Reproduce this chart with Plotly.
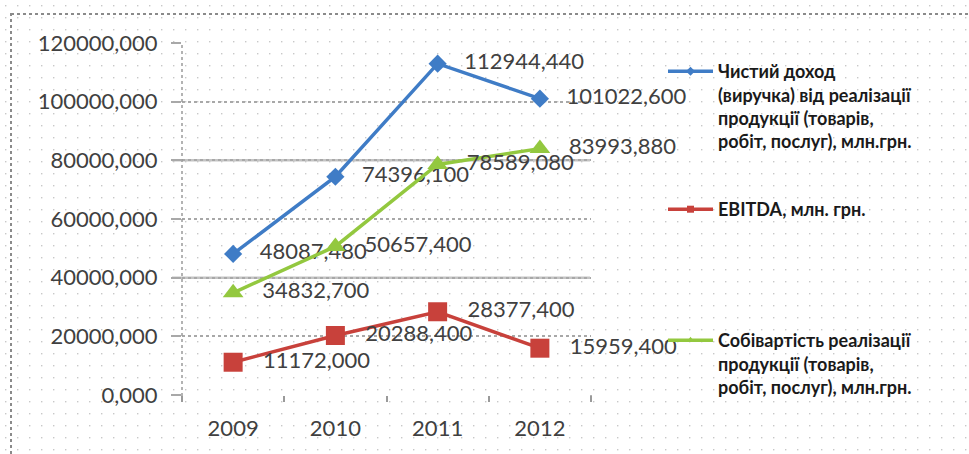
import base64
import plotly.graph_objects as go

years = ["2009", "2010", "2011", "2012"]
revenue = [48087.48, 74396.1, 112944.44, 101022.6]
ebitda = [11172.0, 20288.4, 28377.4, 15959.4]
cost = [34832.7, 50657.4, 78589.08, 83993.88]

name_rev = "Чистий доход<br>(виручка) від реалізації<br>продукції (товарів,<br>робіт, послуг), млн.грн."
name_ebitda = "EBITDA, млн. грн."
name_cost = "Собівартість реалізації<br>продукції (товарів,<br>робіт, послуг), млн.грн."

y_ticks = [0, 20000, 40000, 60000, 80000, 100000, 120000]


def fmt(v):
    return f"{v:.3f}".replace(".", ",")


W, H = 969, 454
L, R, T, B = 182, 378, 43, 59
PW, PH = W - L - R, H - T - B

def px_x(p):
    return (p - L) / PW

def px_y(p):
    return (H - B - p) / PH

FONT = "Lato, 'Open Sans', sans-serif"
TXT = "#404040"

blue = "#3f7cc6"
red = "#c8413b"
green = "#93c83f"

fig = go.Figure()

PAD = "\u00a0\u00a0\u00a0"
series = [
    (revenue, name_rev, blue, "diamond", 14, "legend"),
    (ebitda, name_ebitda, red, "square", 19, "legend2"),
    (cost, name_cost, green, "triangle-up", 18, "legend3"),
]
for vals, name, col, sym, ms, lg in series:
    fig.add_trace(go.Scatter(
        x=years, y=vals, name=name, mode="lines+markers+text",
        line=dict(color=col, width=3.5),
        marker=dict(symbol=sym, size=ms, color=col),
        text=[PAD + fmt(v) for v in vals], textposition="middle right",
        textfont=dict(family=FONT, size=22, color=TXT),
        showlegend=False, cliponaxis=False,
    ))
    # legend entry with the small marker the reference legend uses
    fig.add_trace(go.Scatter(
        x=[None], y=[None], name=name, mode="lines+markers",
        line=dict(color=col, width=3.5),
        marker=dict(symbol=sym, size=7, color=col),
        legend=lg, showlegend=True,
    ))

# dotted background pattern
svg = (
    '<svg xmlns="http://www.w3.org/2000/svg" width="969" height="454">'
    '<defs><pattern id="p" width="12" height="12" patternUnits="userSpaceOnUse">'
    '<rect x="5" y="5" width="1.4" height="1.4" fill="#c8c8c8"/></pattern></defs>'
    '<rect width="969" height="454" fill="url(#p)"/></svg>'
)
src = "data:image/svg+xml;base64," + base64.b64encode(svg.encode()).decode()
fig.add_layout_image(dict(
    source=src, xref="paper", yref="paper",
    x=px_x(0), y=px_y(0), sizex=W / PW, sizey=H / PH,
    xanchor="left", yanchor="top", sizing="stretch", layer="below",
))

shapes = []
# outer dotted border
shapes.append(dict(type="rect", xref="paper", yref="paper",
                   x0=px_x(11), x1=px_x(975), y0=px_y(14), y1=px_y(470),
                   line=dict(color="#8a8a8a", width=2, dash="dot")))
# solid gridlines (40000, 80000)
for yv in (40000, 80000):
    shapes.append(dict(type="line", xref="paper", yref="y", x0=px_x(172), x1=px_x(590),
                       y0=yv, y1=yv, line=dict(color="#c4c4c4", width=2.5), layer="below"))
# dotted y axis line
shapes.append(dict(type="line", xref="paper", yref="paper", x0=0, x1=0,
                   y0=px_y(402), y1=1, line=dict(color="#9a9a9a", width=1.5, dash="dot")))
# tick at right end of x axis
shapes.append(dict(type="line", xref="paper", yref="paper", x0=1, x1=1,
                   y0=px_y(401), y1=0, line=dict(color="#9a9a9a", width=1.5)))

leg_common = dict(font=dict(family=FONT, size=18, color="#1a1a1a", weight="bold"),
                  bgcolor="rgba(0,0,0,0)", borderwidth=0, valign="top",
                  xanchor="left", yanchor="top", itemwidth=45)

fig.update_layout(
    width=W, height=H,
    margin=dict(l=L, r=R, t=T, b=B, autoexpand=False),
    paper_bgcolor="white", plot_bgcolor="rgba(0,0,0,0)",
    showlegend=True,
    legend=dict(x=px_x(663), y=px_y(53), **leg_common),
    legend2=dict(x=px_x(663), y=px_y(191), **leg_common),
    legend3=dict(x=px_x(663), y=px_y(322), **leg_common),
    shapes=shapes,
    xaxis=dict(type="category", range=[-0.5, 3.5], showgrid=False, zeroline=False,
               showline=False, ticks="outside", tickson="boundaries", ticklen=6,
               tickcolor="#9a9a9a", tickwidth=1.5,
               tickfont=dict(family=FONT, size=22, color=TXT), ticklabelstandoff=18),
    yaxis=dict(range=[0, 120000], tickvals=y_ticks, ticktext=[fmt(v) for v in y_ticks],
               showgrid=True, gridcolor="#a8a8a8", griddash="dot", gridwidth=1.5,
               zeroline=False, showline=False, ticks="outside", ticklen=10,
               tickcolor="#a8a8a8", tickwidth=1.5,
               tickfont=dict(family=FONT, size=22, color=TXT), ticklabelstandoff=9),
)

fig.write_html("out.html", config={"displayModeBar": False},
               post_script="document.body.style.margin='0';document.body.style.overflow='hidden';")
